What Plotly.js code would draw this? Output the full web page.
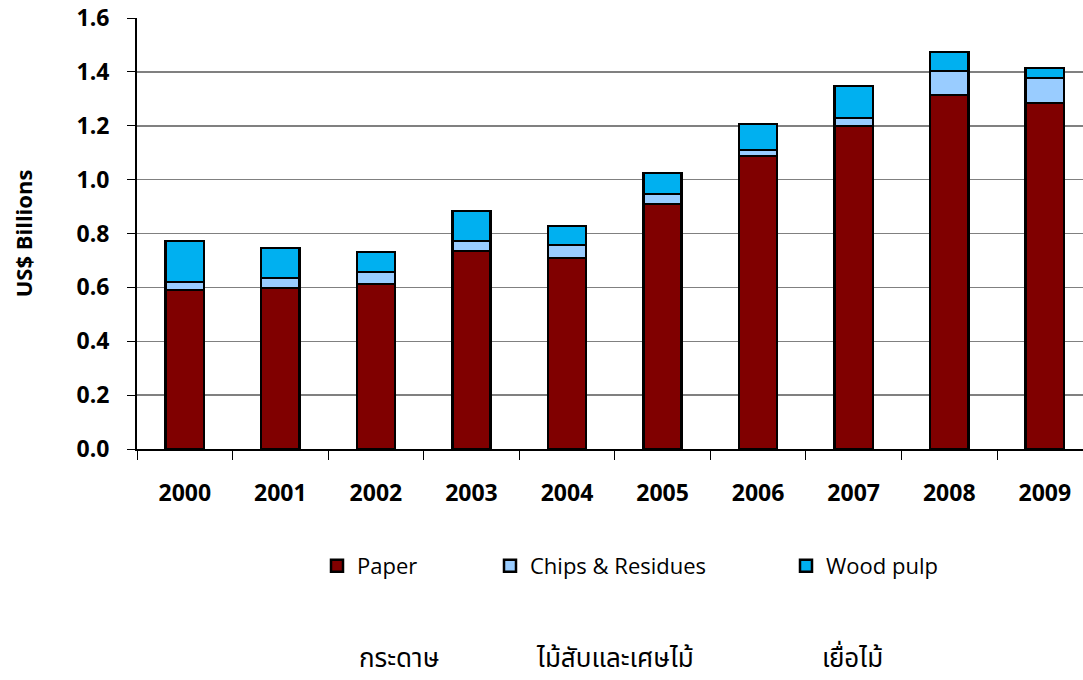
<!DOCTYPE html>
<html>
<head>
<meta charset="utf-8">
<script src="https://cdn.plot.ly/plotly-3.0.1.min.js"></script>
<style>html,body{margin:0;padding:0;background:#fff;}#chart{width:1083px;height:680px;}</style>
</head>
<body>
<div id="chart"></div>
<script>
const years = ["2000","2001","2002","2003","2004","2005","2006","2007","2008","2009"];
const paper = [0.590, 0.598, 0.612, 0.735, 0.709, 0.909, 1.088, 1.199, 1.314, 1.284];
const chips = [0.030, 0.037, 0.045, 0.037, 0.048, 0.037, 0.022, 0.030, 0.089, 0.093];
const woodPulp = [0.152, 0.111, 0.074, 0.111, 0.071, 0.078, 0.096, 0.118, 0.071, 0.037];
const seriesNames = ["Paper", "Chips &amp; Residues", "Wood pulp"];
const thaiLabels = ["กระดาษ", "ไม้สับและเศษไม้", "เยื่อไม้"];
const yTicks = [0, 0.2, 0.4, 0.6, 0.8, 1.0, 1.2, 1.4, 1.6];
const yTickText = ["0.0","0.2","0.4","0.6","0.8","1.0","1.2","1.4","1.6"];

const lineStyle = {color: "#000", width: 2.5};
const traces = [
  {type: "bar", name: seriesNames[0], x: years, y: paper, width: 0.4,
   marker: {color: "#800000", line: lineStyle}, legend: "legend"},
  {type: "bar", name: seriesNames[1], x: years, y: chips, width: 0.4,
   marker: {color: "#99CCFF", line: lineStyle}, legend: "legend2"},
  {type: "bar", name: seriesNames[2], x: years, y: woodPulp, width: 0.4,
   marker: {color: "#00B0F0", line: lineStyle}, legend: "legend3"}
];

const fontMain = "Open Sans, Liberation Sans, sans-serif";
const legendBase = {orientation: "h", xref: "paper", yref: "container", xanchor: "left", yanchor: "middle",
  font: {family: fontMain, size: 22, color: "#000"},
  bgcolor: "rgba(0,0,0,0)", itemwidth: 30, tracegroupgap: 0};

const layout = {
  width: 1083, height: 680,
  margin: {l: 137, r: 0, t: 18, b: 231},
  paper_bgcolor: "#fff", plot_bgcolor: "#fff",
  barmode: "stack",
  showlegend: true,
  legend: Object.assign({}, legendBase, {x: (317 - 137) / 946, y: 114 / 680}),
  legend2: Object.assign({}, legendBase, {x: (490 - 137) / 946, y: 114 / 680}),
  legend3: Object.assign({}, legendBase, {x: (786 - 137) / 946, y: 114 / 680}),
  xaxis: {
    type: "category", range: [-0.5, 9.4],
    showline: true, linecolor: "#000", linewidth: 2,
    ticks: "outside", tickson: "boundaries", ticklen: 9, tickcolor: "#000", tickwidth: 1,
    ticklabelstandoff: 22,
    tickfont: {family: fontMain, size: 23, color: "#000", weight: "bold"},
    showgrid: false, fixedrange: true
  },
  yaxis: {
    range: [0, 1.6], tickvals: yTicks, ticktext: yTickText,
    showline: true, linecolor: "#000", linewidth: 2,
    ticks: "outside", ticklen: 8, tickcolor: "#000", tickwidth: 1,
    ticklabelstandoff: 13,
    tickfont: {family: fontMain, size: 23, color: "#000", weight: "bold"},
    showgrid: true, gridcolor: "#808080", gridwidth: 1.5,
    zeroline: false,
    title: {text: "US$ Billions", font: {family: fontMain, size: 22, color: "#000", weight: "bold"}, standoff: 38},
    fixedrange: true
  },
  annotations: [
    {text: thaiLabels[0], x: 399, y: 659},
    {text: thaiLabels[1], x: 615, y: 659},
    {text: thaiLabels[2], x: 852, y: 659}
  ].map(a => ({text: a.text, xref: "paper", yref: "paper", x: (a.x - 137) / 946, y: (449 - a.y) / 431,
    xanchor: "center", yanchor: "middle", showarrow: false, borderpad: 0,
    font: {family: "Noto Sans Thai, Noto Sans, DejaVu Sans, sans-serif", size: 26, color: "#000"}}))
};

Plotly.newPlot("chart", traces, layout, {displayModeBar: false, staticPlot: true});
</script>
</body>
</html>
